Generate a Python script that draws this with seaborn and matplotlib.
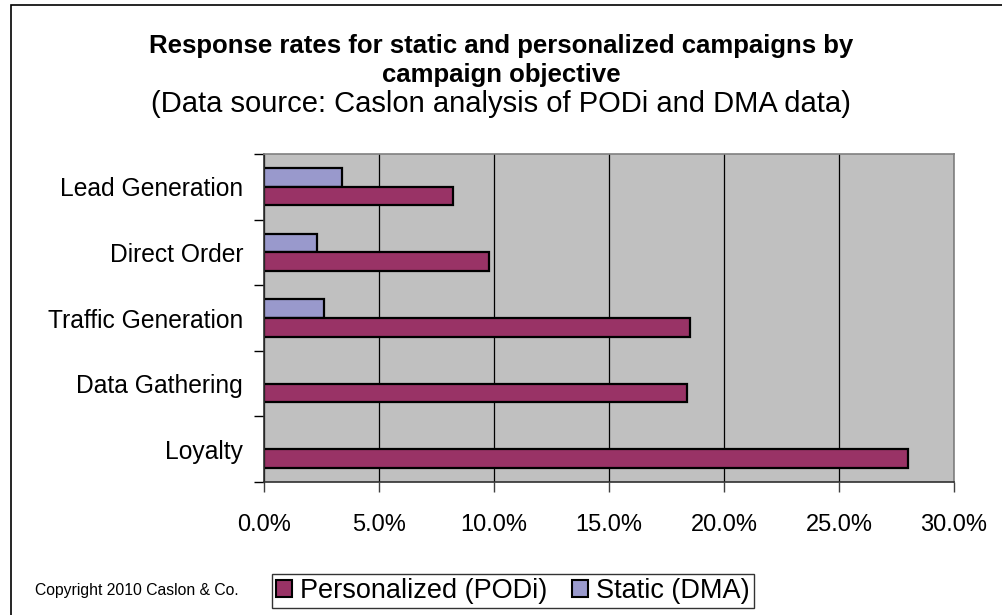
import matplotlib
matplotlib.use("Agg")
import matplotlib.pyplot as plt
import matplotlib.patches as mpatches
from matplotlib.ticker import FuncFormatter, FixedLocator
import seaborn as sns
import pandas as pd
import numpy as np

categories = ["Lead Generation", "Direct Order", "Traffic Generation", "Data Gathering", "Loyalty"]
personalized = [8.2, 9.8, 18.5, 18.4, 28.0]
static = [3.4, 2.3, 2.6, np.nan, np.nan]
series_names = ["Personalized (PODi)", "Static (DMA)"]
x_ticks = [0, 5, 10, 15, 20, 25, 30]

title_lines = ["Response rates for static and personalized campaigns by", "campaign objective"]
subtitle = "(Data source: Caslon analysis of PODi and DMA data)"
copyright_text = "Copyright 2010 Caslon & Co."

sns.set_theme(style="white")
plt.rcParams['font.family'] = ['Liberation Sans', 'DejaVu Sans']
plt.rcParams['text.color'] = 'black'
plt.rcParams['xtick.color'] = 'black'
plt.rcParams['ytick.color'] = 'black'
plt.rcParams['axes.labelcolor'] = 'black'

df = pd.DataFrame({
    "category": categories * 2,
    "value": personalized + static,
    "series": [series_names[0]] * len(categories) + [series_names[1]] * len(categories),
})

colors = {series_names[0]: "#993366", series_names[1]: "#9999CC"}

W, H = 1002, 615
fig = plt.figure(figsize=(W / 100, H / 100), dpi=100)
fig.patch.set_facecolor("white")
ax = fig.add_axes([264 / W, 1 - 482 / H, (954 - 264) / W, (482 - 154) / H])
ax.set_facecolor("#C0C0C0")

sns.barplot(data=df, y="category", x="value", hue="series",
            hue_order=[series_names[1], series_names[0]], order=categories,
            palette=colors, orient="h", width=0.565, gap=0, dodge=True,
            edgecolor="black", linewidth=1.6, errorbar=None, ax=ax, legend=False,
            saturation=1)

ax.set_xlim(0, 30)
ax.set_ylim(len(categories) - 0.5, -0.5)
ax.xaxis.set_major_locator(FixedLocator(x_ticks))
ax.xaxis.set_major_formatter(FuncFormatter(lambda v, p: f"{v:.1f}%"))
ax.set_xlabel("")
ax.set_ylabel("")
ax.grid(axis="x", color="black", linewidth=0.9)
ax.set_axisbelow(True)

ax.yaxis.set_minor_locator(FixedLocator(np.arange(-0.5, len(categories), 1.0)))
ax.tick_params(axis="y", which="major", length=0, labelsize=17.7, pad=15, labelcolor="black")
ax.tick_params(axis="y", which="minor", length=7, width=1, color="black", direction="out", left=True)
ax.tick_params(axis="x", which="major", length=7, width=1, color="#404040", direction="out",
               bottom=True, labelsize=17, pad=16, labelcolor="black")

for s in ["left", "bottom"]:
    ax.spines[s].set_color("#303030")
    ax.spines[s].set_linewidth(1.2)
for s in ["top", "right"]:
    ax.spines[s].set_color("#808080")
    ax.spines[s].set_linewidth(1.2)
    ax.spines[s].set_visible(True)

fig.text(0.5, 1 - 46 / H, title_lines[0], ha="center", va="center", fontsize=18.5, fontweight="bold")
fig.text(0.5, 1 - 75 / H, title_lines[1], ha="center", va="center", fontsize=18.5, fontweight="bold")
fig.text(0.5, 1 - 104 / H, subtitle, ha="center", va="center", fontsize=21)
fig.text(35 / W, 1 - 591 / H, copyright_text, ha="left", va="center", fontsize=11.3)

handles = [mpatches.Patch(facecolor=colors[n], edgecolor="black", linewidth=1.5, label=n) for n in series_names]
leg = fig.legend(handles=handles, loc="center", bbox_to_anchor=(513 / W, 1 - 591 / H), ncol=2,
                 fontsize=19.5, frameon=True, fancybox=False, edgecolor="black",
                 handlelength=0.6, handleheight=0.6, handletextpad=0.3, columnspacing=0.9,
                 borderpad=0.15, borderaxespad=0)
leg.get_frame().set_linewidth(1.0)

fig.add_artist(mpatches.Rectangle((11 / W, -0.1), 1.2, 1.1 - 5 / H, transform=fig.transFigure,
                                  fill=False, edgecolor="black", linewidth=1.2))

fig.savefig("out.png", dpi=100)
